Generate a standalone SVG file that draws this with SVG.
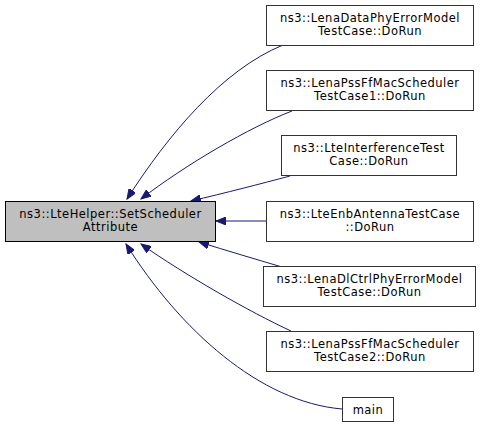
<svg xmlns="http://www.w3.org/2000/svg" width="480" height="429" viewBox="0 0 480 429">
<defs>
<style>
.node rect{fill:#ffffff;stroke:#333333;stroke-width:1}
#n0 rect{fill:#bfbfbf;stroke:#000000}
text{font-family:"DejaVu Sans","Liberation Sans",sans-serif;font-size:11.5px;letter-spacing:0.5px;fill:#000;text-anchor:middle}
.edge{fill:none;stroke:#191970;stroke-width:1;marker-end:url(#arr)}
</style>
<marker id="arr" markerWidth="11" markerHeight="8" refX="10" refY="4" orient="auto" markerUnits="userSpaceOnUse">
<path d="M0,0 L10,4 L0,8 z" fill="#191970" stroke="#191970" stroke-width="1"/>
</marker>
</defs>
<rect width="480" height="429" fill="#ffffff"/>
<g id="edges">
<path class="edge" d="M283,45 C222,70 168,135 127,199"/>
<path class="edge" d="M292,111 C250,127 185,165 141,199"/>
<path class="edge" d="M290,176 C260,184 225,193 191,201"/>
<path class="edge" d="M266,221 L216,221"/>
<path class="edge" d="M282,267 C255,259 228,251 199,242"/>
<path class="edge" d="M291,331 C250,312 185,275 141,244"/>
<path class="edge" d="M342,409 C260,402 180,330 126,244"/>
</g>
<g id="n0" class="node"><rect x="5.5" y="201.5" width="210" height="40"/><text x="110.5" y="217.5">ns3::LteHelper::SetScheduler</text><text x="110.5" y="231">Attribute</text></g>
<g id="n1" class="node"><rect x="266.5" y="5.5" width="207" height="40"/><text x="370" y="21.5">ns3::LenaDataPhyErrorModel</text><text x="370" y="35">TestCase::DoRun</text></g>
<g id="n2" class="node"><rect x="266.5" y="70.5" width="207" height="40"/><text x="370" y="86.5">ns3::LenaPssFfMacScheduler</text><text x="370" y="100">TestCase1::DoRun</text></g>
<g id="n3" class="node"><rect x="281.5" y="135.5" width="175" height="40"/><text x="369" y="151.5">ns3::LteInterferenceTest</text><text x="369" y="165">Case::DoRun</text></g>
<g id="n4" class="node"><rect x="266.5" y="201.5" width="207" height="40"/><text x="370" y="217.5">ns3::LteEnbAntennaTestCase</text><text x="370" y="231">::DoRun</text></g>
<g id="n5" class="node"><rect x="263.5" y="266.5" width="212" height="40"/><text x="369.5" y="282.5">ns3::LenaDlCtrlPhyErrorModel</text><text x="369.5" y="296">TestCase::DoRun</text></g>
<g id="n6" class="node"><rect x="266.5" y="331.5" width="207" height="40"/><text x="370" y="347.5">ns3::LenaPssFfMacScheduler</text><text x="370" y="361">TestCase2::DoRun</text></g>
<g id="n7" class="node"><rect x="342.5" y="397.5" width="51" height="24"/><text x="368" y="414">main</text></g>
</svg>
